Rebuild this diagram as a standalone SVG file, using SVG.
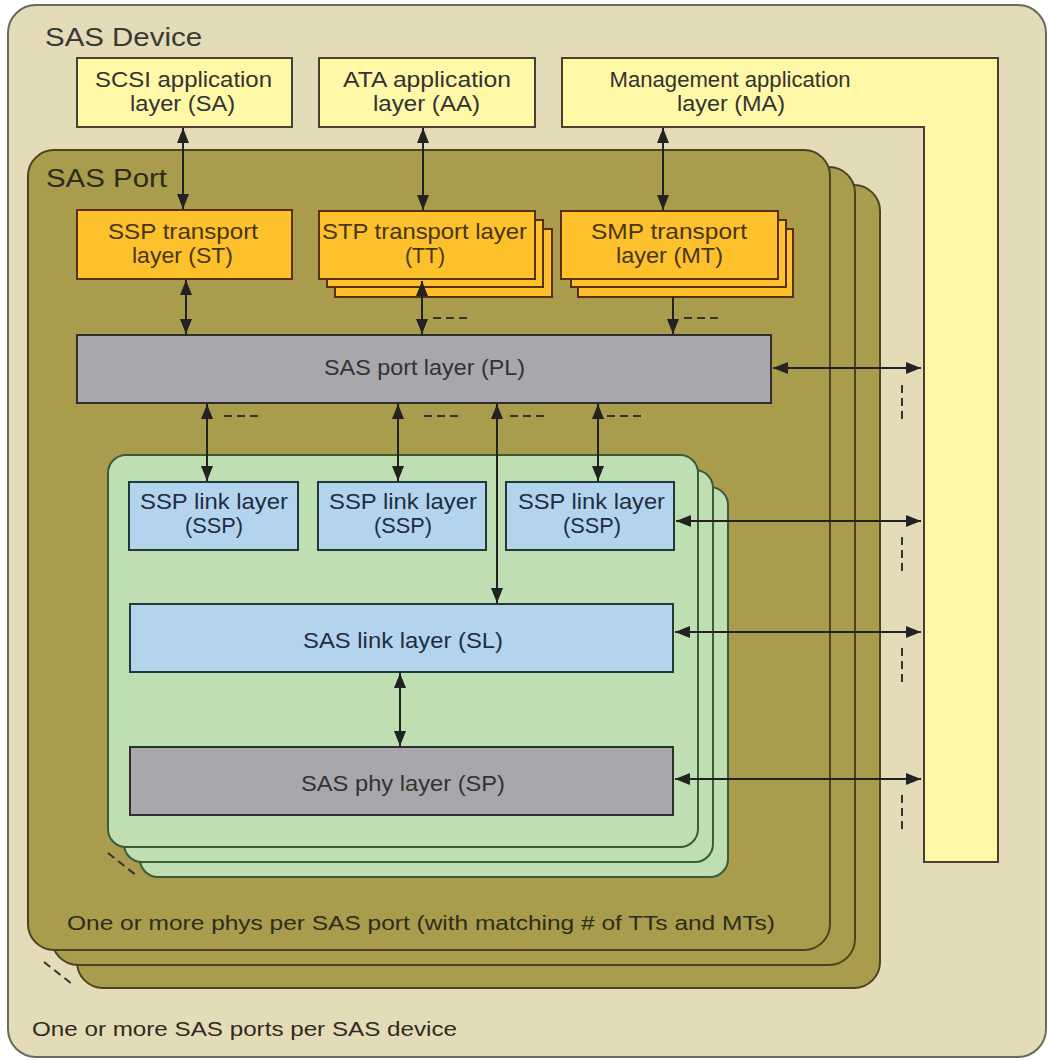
<svg xmlns="http://www.w3.org/2000/svg" width="1052" height="1061" viewBox="0 0 1052 1061">
<style>
text{font-family:"Liberation Sans",Arial,sans-serif;font-size:22px;fill:#333;}
.title{font-size:25px;fill:#3a3a30;}
.note{font-size:20px;fill:#2e2c1c;}
.device{fill:#e4dcb9;stroke:#6a6a5a;stroke-width:2;}
.port{fill:#a99c4c;stroke:#4a4420;stroke-width:2;}
.phy{fill:#bfdfb2;stroke:#3d5a3a;stroke-width:2;}
.app{fill:#fff8a6;stroke:#4a4030;stroke-width:2;}
.tp{fill:#fdc12b;stroke:#5a2e10;stroke-width:2;}
.gray{fill:#a8a8ac;stroke:#2e2e2e;stroke-width:2;}
.blue{fill:#b4d4ee;stroke:#1f3a38;stroke-width:2;}
.conn line{stroke:#222;stroke-width:2;fill:none;}
.dash line{stroke:#333;stroke-width:2;stroke-dasharray:8,5;}
.t-tp{fill:#4a3518;}
.t-blue{fill:#1e2e40;}
</style>
<defs>
<marker id="ah" viewBox="0 0 10 10" refX="10" refY="5" markerWidth="15" markerHeight="12" preserveAspectRatio="none" markerUnits="userSpaceOnUse" orient="auto-start-reverse">
<path d="M0,0 L10,5 L0,10 z" fill="#222"/>
</marker>
</defs>

<g id="sas-device">
<rect class="device" x="8" y="5" width="1038" height="1052" rx="28"/>
<text class="title" x="45" y="46" textLength="157" lengthAdjust="spacingAndGlyphs">SAS Device</text>
<text class="note" x="32" y="1036" textLength="425" lengthAdjust="spacingAndGlyphs">One or more SAS ports per SAS device</text>
</g>

<g id="sas-port">
<rect class="port" x="77" y="185" width="803" height="803" rx="26"/>
<rect class="port" x="52" y="167" width="803" height="798" rx="26"/>
<rect class="port" x="28" y="150" width="802" height="800" rx="26"/>
<text class="title" x="46" y="187" textLength="121" lengthAdjust="spacingAndGlyphs" style="fill:#2e2b18">SAS Port</text>
<text class="note" x="67" y="930" textLength="708" lengthAdjust="spacingAndGlyphs">One or more phys per SAS port (with matching # of TTs and MTs)</text>
</g>

<g id="phy-stack">
<rect class="phy" x="140" y="487" width="588" height="390" rx="18"/>
<rect class="phy" x="124" y="470" width="589" height="392" rx="18"/>
<rect class="phy" x="108" y="455" width="590" height="392" rx="18"/>
</g>

<g id="sa">
<rect class="app" x="77" y="58" width="215" height="69"/>
<text x="183.5" y="87" text-anchor="middle" textLength="177" lengthAdjust="spacingAndGlyphs">SCSI application</text>
<text x="182.5" y="111" text-anchor="middle" textLength="105" lengthAdjust="spacingAndGlyphs">layer (SA)</text>
</g>
<g id="aa">
<rect class="app" x="319" y="58" width="216" height="69"/>
<text x="427" y="87" text-anchor="middle" textLength="168" lengthAdjust="spacingAndGlyphs">ATA application</text>
<text x="426.5" y="111" text-anchor="middle" textLength="107" lengthAdjust="spacingAndGlyphs">layer (AA)</text>
</g>
<g id="ma">
<path class="app" d="M562,58 H998 V862 H924 V127 H562 Z"/>
<text x="730" y="87" text-anchor="middle" textLength="241" lengthAdjust="spacingAndGlyphs">Management application</text>
<text x="731" y="111" text-anchor="middle" textLength="108" lengthAdjust="spacingAndGlyphs">layer (MA)</text>
</g>

<g id="st">
<rect class="tp" x="77" y="210" width="215" height="69"/>
<text class="t-tp" x="183" y="239" text-anchor="middle" textLength="150" lengthAdjust="spacingAndGlyphs">SSP transport</text>
<text class="t-tp" x="182.5" y="263" text-anchor="middle" textLength="101" lengthAdjust="spacingAndGlyphs">layer (ST)</text>
</g>
<g id="tt">
<rect class="tp" x="335" y="229" width="217" height="68"/>
<rect class="tp" x="327" y="220" width="216" height="67"/>
<rect class="tp" x="319" y="211" width="216" height="68"/>
<text class="t-tp" x="424.5" y="239" text-anchor="middle" textLength="205" lengthAdjust="spacingAndGlyphs">STP transport layer</text>
<text class="t-tp" x="425" y="263" text-anchor="middle" textLength="40" lengthAdjust="spacingAndGlyphs">(TT)</text>
</g>
<g id="mt">
<rect class="tp" x="578" y="229" width="215" height="68"/>
<rect class="tp" x="571" y="220" width="215" height="67"/>
<rect class="tp" x="561" y="211" width="217" height="68"/>
<text class="t-tp" x="669" y="239" text-anchor="middle" textLength="156" lengthAdjust="spacingAndGlyphs">SMP transport</text>
<text class="t-tp" x="669.5" y="263" text-anchor="middle" textLength="107" lengthAdjust="spacingAndGlyphs">layer (MT)</text>
</g>

<g id="pl">
<rect class="gray" x="77" y="335" width="694" height="68"/>
<text x="424.5" y="375" text-anchor="middle" textLength="201" lengthAdjust="spacingAndGlyphs">SAS port layer (PL)</text>
</g>

<g id="ssp1">
<rect class="blue" x="129" y="482" width="169" height="68"/>
<text class="t-blue" x="214" y="509" text-anchor="middle" textLength="148" lengthAdjust="spacingAndGlyphs">SSP link layer</text>
<text class="t-blue" x="214" y="533" text-anchor="middle" textLength="58" lengthAdjust="spacingAndGlyphs">(SSP)</text>
</g>
<g id="ssp2">
<rect class="blue" x="318" y="482" width="168" height="68"/>
<text class="t-blue" x="403" y="509" text-anchor="middle" textLength="148" lengthAdjust="spacingAndGlyphs">SSP link layer</text>
<text class="t-blue" x="403" y="533" text-anchor="middle" textLength="58" lengthAdjust="spacingAndGlyphs">(SSP)</text>
</g>
<g id="ssp3">
<rect class="blue" x="506" y="482" width="168" height="68"/>
<text class="t-blue" x="591.5" y="509" text-anchor="middle" textLength="147" lengthAdjust="spacingAndGlyphs">SSP link layer</text>
<text class="t-blue" x="592" y="533" text-anchor="middle" textLength="58" lengthAdjust="spacingAndGlyphs">(SSP)</text>
</g>
<g id="sl">
<rect class="blue" x="130" y="604" width="543" height="68"/>
<text class="t-blue" x="403" y="648" text-anchor="middle" textLength="200" lengthAdjust="spacingAndGlyphs">SAS link layer (SL)</text>
</g>
<g id="sp">
<rect class="gray" x="130" y="747" width="543" height="68"/>
<text x="403" y="791" text-anchor="middle" textLength="204" lengthAdjust="spacingAndGlyphs">SAS phy layer (SP)</text>
</g>

<g id="connectors" class="conn">
<line x1="183" y1="128" x2="183" y2="209" marker-start="url(#ah)" marker-end="url(#ah)"/>
<line x1="423" y1="128" x2="423" y2="210" marker-start="url(#ah)" marker-end="url(#ah)"/>
<line x1="663" y1="128" x2="663" y2="210" marker-start="url(#ah)" marker-end="url(#ah)"/>
<line x1="186" y1="280" x2="186" y2="334" marker-start="url(#ah)" marker-end="url(#ah)"/>
<line x1="422" y1="281" x2="422" y2="334" marker-start="url(#ah)" marker-end="url(#ah)"/>
<line x1="673" y1="297" x2="673" y2="334" marker-end="url(#ah)"/>
<line x1="207" y1="404" x2="207" y2="481" marker-start="url(#ah)" marker-end="url(#ah)"/>
<line x1="398" y1="404" x2="398" y2="481" marker-start="url(#ah)" marker-end="url(#ah)"/>
<line x1="497" y1="404" x2="497" y2="603" marker-start="url(#ah)" marker-end="url(#ah)"/>
<line x1="598" y1="404" x2="598" y2="481" marker-start="url(#ah)" marker-end="url(#ah)"/>
<line x1="400" y1="673" x2="400" y2="746" marker-start="url(#ah)" marker-end="url(#ah)"/>
<line x1="773" y1="368" x2="921" y2="368" marker-start="url(#ah)" marker-end="url(#ah)"/>
<line x1="676" y1="521" x2="921" y2="521" marker-start="url(#ah)" marker-end="url(#ah)"/>
<line x1="675" y1="632" x2="921" y2="632" marker-start="url(#ah)" marker-end="url(#ah)"/>
<line x1="675" y1="779" x2="921" y2="779" marker-start="url(#ah)" marker-end="url(#ah)"/>
<g class="dash">
<line x1="433" y1="318" x2="470" y2="318"/>
<line x1="684" y1="318" x2="720" y2="318"/>
<line x1="224" y1="416" x2="261" y2="416"/>
<line x1="424" y1="416" x2="461" y2="416"/>
<line x1="510" y1="416" x2="547" y2="416"/>
<line x1="607" y1="416" x2="644" y2="416"/>
<line x1="902" y1="385" x2="902" y2="422"/>
<line x1="902" y1="537" x2="902" y2="574"/>
<line x1="902" y1="648" x2="902" y2="685"/>
<line x1="902" y1="795" x2="902" y2="832"/>
<line x1="44" y1="962" x2="72" y2="984"/>
<line x1="108" y1="853" x2="137" y2="876"/>
</g>
</g>
</svg>
